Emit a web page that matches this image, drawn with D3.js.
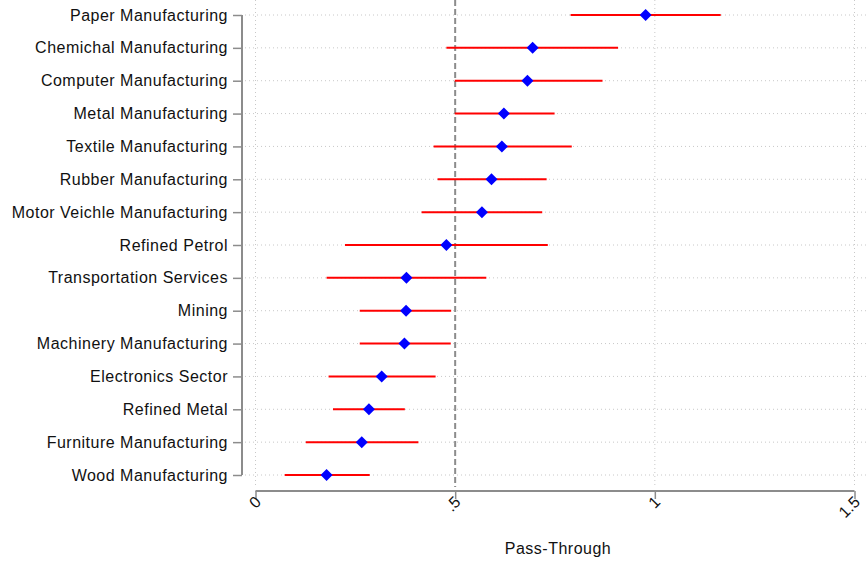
<!DOCTYPE html>
<html>
<head>
<meta charset="utf-8">
<script src="https://cdn.jsdelivr.net/npm/d3@7"></script>
<style>
  html, body { margin: 0; padding: 0; background: #fff; }
  svg { display: block; font-family: "Liberation Sans", Arial, sans-serif; }
</style>
</head>
<body>
<svg id="chart" width="867" height="561"></svg>
<script>
// Sectors, top to bottom
const sectors = [
  "Paper Manufacturing", "Chemichal Manufacturing", "Computer Manufacturing",
  "Metal Manufacturing", "Textile Manufacturing", "Rubber Manufacturing",
  "Motor Veichle Manufacturing", "Refined Petrol", "Transportation Services",
  "Mining", "Machinery Manufacturing", "Electronics Sector", "Refined Metal",
  "Furniture Manufacturing", "Wood Manufacturing"
];
// Point estimates of pass-through
const estimates = [0.977, 0.694, 0.681, 0.622, 0.617, 0.591, 0.567, 0.478, 0.378, 0.377, 0.373, 0.316, 0.284, 0.266, 0.178];
// Confidence interval bounds
const lower = [0.789, 0.478, 0.499, 0.499, 0.446, 0.456, 0.416, 0.224, 0.178, 0.261, 0.261, 0.183, 0.194, 0.126, 0.073];
const upper = [1.165, 0.908, 0.869, 0.749, 0.792, 0.729, 0.718, 0.732, 0.578, 0.490, 0.489, 0.451, 0.374, 0.408, 0.286];
// Axis ticks
const xTicks = [0, 0.5, 1, 1.5];
const xTickLabels = ["0", ".5", "1", "1.5"];
const refLine = 0.5;

const svg = d3.select("#chart");
const W = 867, H = 561;
const FONT = "Liberation Sans, Arial, sans-serif";

const x = d3.scaleLinear().domain([0, 1.5]).range([255.5, 854.5]);
const y = d3.scalePoint().domain(sectors).range([15, 475]);

const gridTop = 0, gridBottom = 487;

// Vertical grid lines
svg.append("g").selectAll("line")
  .data([0, 1, 1.5])
  .join("line")
  .attr("x1", d => x(d)).attr("x2", d => x(d))
  .attr("y1", gridTop).attr("y2", gridBottom)
  .attr("stroke", "#c8c8c8").attr("stroke-width", 1)
  .attr("stroke-dasharray", "1,3");

// Horizontal grid lines
svg.append("g").selectAll("line")
  .data(sectors)
  .join("line")
  .attr("x1", 245).attr("x2", W)
  .attr("y1", d => y(d)).attr("y2", d => y(d))
  .attr("stroke", "#c8c8c8").attr("stroke-width", 1)
  .attr("stroke-dasharray", "1,3");

// Reference line at 0.5
svg.append("line")
  .attr("x1", x(refLine)).attr("x2", x(refLine))
  .attr("y1", gridTop).attr("y2", gridBottom)
  .attr("stroke", "#8c8c8c").attr("stroke-width", 2)
  .attr("stroke-dasharray", "6,3");

// Y axis
const yAxis = d3.axisLeft(y).tickSize(9).tickPadding(5);
const gy = svg.append("g").attr("transform", "translate(242,0)").call(yAxis);
gy.select(".domain").attr("stroke", "#8c8c8c").attr("stroke-width", 2)
  .attr("d", `M0,${y(sectors[0])}V${y(sectors[sectors.length - 1])}`);
gy.selectAll(".tick line").attr("stroke", "#8c8c8c").attr("stroke-width", 1.5);
gy.selectAll(".tick text").attr("font-size", 16).attr("fill", "#111")
  .attr("letter-spacing", 0.5)
  .attr("font-family", FONT);

// X axis
const xAxis = d3.axisBottom(x).tickValues(xTicks)
  .tickFormat((d, i) => xTickLabels[i]).tickSize(8).tickPadding(4);
const gx = svg.append("g").attr("transform", "translate(0,491)").call(xAxis);
gx.select(".domain").attr("stroke", "#8c8c8c").attr("stroke-width", 2)
  .attr("d", `M${x(0)},0H${x(1.5)}`);
gx.selectAll(".tick line").attr("stroke", "#8c8c8c").attr("stroke-width", 1.5);
gx.selectAll(".tick text")
  .attr("font-size", 16).attr("fill", "#111")
  .attr("font-family", FONT)
  .attr("text-anchor", "end")
  .attr("dy", null).attr("y", null)
  .attr("transform", "translate(6,12) rotate(-45)");

// Axis title
svg.append("text")
  .attr("x", (x(0) + x(1.5)) / 2 + 3).attr("y", 554)
  .attr("text-anchor", "middle")
  .attr("font-size", 16).attr("letter-spacing", 0.5).attr("fill", "#111")
  .text("Pass-Through");

// Confidence intervals
svg.append("g").selectAll("line")
  .data(sectors)
  .join("line")
  .attr("x1", (d, i) => x(lower[i])).attr("x2", (d, i) => x(upper[i]))
  .attr("y1", d => y(d)).attr("y2", d => y(d))
  .attr("stroke", "#ff0000").attr("stroke-width", 2);

// Point estimates
svg.append("g").selectAll("path")
  .data(sectors)
  .join("path")
  .attr("transform", (d, i) => `translate(${x(estimates[i])},${y(d)})`)
  .attr("d", "M0,-6L6,0L0,6L-6,0Z")
  .attr("fill", "#0000ff");
</script>
</body>
</html>
